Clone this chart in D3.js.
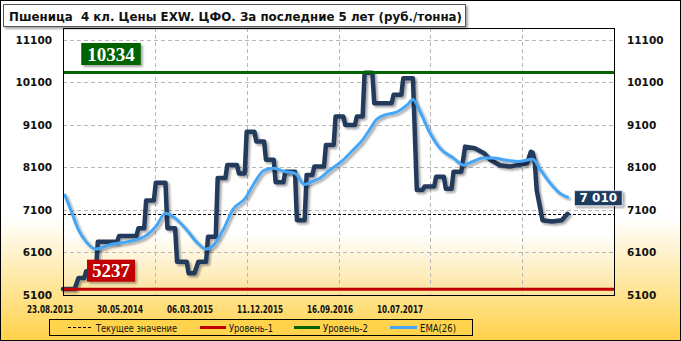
<!doctype html>
<html>
  <head>
    <meta charset="utf-8">
    <title>Пшеница 4 кл. Цены EXW. ЦФО</title>
    <script src="https://cdnjs.cloudflare.com/ajax/libs/d3/7.8.5/d3.min.js"></script>
    <style>
      body { margin: 0; background: #fff; }
      svg { display: block; }
      .yaxis text { font-family: "DejaVu Sans", sans-serif; font-weight: bold; font-size: 10.5px; fill: #111; }
    </style>
  </head>
  <body>
    <div id="chart"></div>
    <script>
      // weeks counted from 23.08.2013, price in rub/t
      const priceWeeks = [0,6,8,11,12,17,18,28,29,38, 39,42,43,47,48,53,54,58,59,64,
        65,68,70,74,75,79,80,84,85,90, 91,94,95,99,100,104,105,109,110,114,
        115,120,121,125,126,129,130,135,136,140, 141,145,146,151,152,155,156,160,161,170,
        171,175,176,181,183,186,187,192,193,197, 198,201,202,206,208,213,218,221,226,231,
        236,240,242,243,244,245,248,253,258,261];
      const priceValues = [5240,5240,5500,5500,5660,5660,6350,6350,6490,6490, 6670,6670,7320,7320,7740,7740,6670,6670,5880,5880,
        5610,5610,5880,5880,6470,6470,7850,7850,8160,8160, 7960,7960,8940,8940,8710,8710,8280,8280,7750,7750,
        8000,8000,6860,6860,7920,7920,8120,8120,8630,8630, 9300,9300,9100,9100,9300,9300,10330,10330,9610,9610,
        9810,9810,10200,10200,7570,7570,7650,7650,7880,7880, 7600,7600,8000,8000,8590,8550,8430,8280,8150,8120,
        8160,8200,8470,8440,8240,7570,6860,6830,6860,7010];
      const emaWeeks = [1,4,8,12,17,24,33,42,48,53, 57,64,69,74,78,83,88,94,99,104,
        109,115,120,125,129,133,138,145,150,155, 159,162,167,173,178,181,185,189,195,202,
        207,212,217,223,228,235,243,247,252,257, 261];
      const emaValues = [7450,7100,6630,6350,6180,6280,6350,6470,6710,7020, 6940,6630,6350,6180,6280,6650,7120,7360,7740,8030,
        8080,8000,7960,7700,7770,7850,8040,8280,8510,8750, 9020,9220,9340,9410,9570,9700,9380,8980,8550,8320,
        8160,8240,8320,8320,8280,8240,8290,8040,7730,7490, 7400];
      const yTicks = [5100,6100,7100,8100,9100,10100,11100];
      const dateLabels = ['23.08.2013','30.05.2014','06.03.2015','11.12.2015','16.09.2016','10.07.2017'];
      const level1 = 5237, level2 = 10334, current = 7010;
      const legendNames = ['Текущее значение','Уровень-1','Уровень-2','EMA(26)'];

      const width = 681, height = 341;
      const plot = {left: 63, right: 614, top: 28, bottom: 295};

      const x = d3.scaleLinear().domain([0, 285]).range([plot.left, plot.right]);
      const y = d3.scaleLinear().domain([5100, 11380]).range([plot.bottom, plot.top]);
      const xLab = d3.scalePoint().domain(dateLabels).range([50, 400]);

      const svg = d3.select('#chart').append('svg')
        .attr('width', width).attr('height', height);

      const defs = svg.append('defs');
      const g1 = defs.append('linearGradient').attr('id', 'bgOuter')
        .attr('x1', 0).attr('y1', 0).attr('x2', 0).attr('y2', 1);
      g1.append('stop').attr('offset', '0%').attr('stop-color', '#ffffff');
      g1.append('stop').attr('offset', '64%').attr('stop-color', '#ffffff');
      g1.append('stop').attr('offset', '100%').attr('stop-color', '#ffd24a');
      const g2 = defs.append('linearGradient').attr('id', 'bgPlot')
        .attr('x1', 0).attr('y1', 0).attr('x2', 0).attr('y2', 1);
      g2.append('stop').attr('offset', '0%').attr('stop-color', '#ffffff');
      g2.append('stop').attr('offset', '77%').attr('stop-color', '#ffffff');
      g2.append('stop').attr('offset', '100%').attr('stop-color', '#fde39a');
      const sh = defs.append('filter').attr('id', 'shadow')
        .attr('x', '-10%').attr('y', '-10%').attr('width', '130%').attr('height', '130%');
      sh.append('feDropShadow').attr('dx', 2).attr('dy', 2).attr('stdDeviation', 1.3)
        .attr('flood-color', '#000').attr('flood-opacity', 0.35);

      // backgrounds
      svg.append('rect').attr('x', 0.5).attr('y', 0.5).attr('width', width - 1).attr('height', height - 1)
        .style('fill', 'url(#bgOuter)').style('stroke', '#000');
      svg.append('rect').attr('x', plot.left).attr('y', plot.top)
        .attr('width', plot.right - plot.left).attr('height', plot.bottom - plot.top)
        .style('fill', 'url(#bgPlot)');

      // grid
      svg.append('g').selectAll('line').data(yTicks.slice(1)).join('line')
        .attr('x1', plot.left).attr('x2', plot.right)
        .attr('y1', d => Math.round(y(d)) + 0.5).attr('y2', d => Math.round(y(d)) + 0.5)
        .style('stroke', '#b8b8b8').style('stroke-dasharray', '4,3');
      svg.append('g').selectAll('line').data(d3.range(1, 6).map(i => i * 285 / 6)).join('line')
        .attr('x1', d => Math.round(x(d)) + 0.5).attr('x2', d => Math.round(x(d)) + 0.5)
        .attr('y1', plot.top).attr('y2', plot.bottom)
        .style('stroke', '#b8b8b8').style('stroke-dasharray', '4,3');

      // current value
      svg.append('line').attr('x1', plot.left).attr('x2', plot.right)
        .attr('y1', Math.round(y(current)) + 0.5).attr('y2', Math.round(y(current)) + 0.5)
        .style('stroke', '#000').style('stroke-dasharray', '3,2');

      const line = d3.line().x(d => x(d[0])).y(d => y(d[1]));
      svg.append('path').datum(d3.zip(priceWeeks, priceValues))
        .attr('d', line)
        .attr('filter', 'url(#shadow)')
        .style('fill', 'none').style('stroke', '#233a5c').style('stroke-width', 4.5)
        .style('stroke-linejoin', 'round').style('stroke-linecap', 'round');
      svg.append('path').datum(d3.zip(emaWeeks, emaValues))
        .attr('d', line.curve(d3.curveMonotoneX))
        .attr('filter', 'url(#shadow)')
        .style('fill', 'none').style('stroke', '#45a6f5').style('stroke-width', 3)
        .style('stroke-linejoin', 'round').style('stroke-linecap', 'round');

      // levels
      svg.append('line').attr('x1', plot.left).attr('x2', plot.right)
        .attr('y1', y(level1)).attr('y2', y(level1))
        .style('stroke', '#c00000').style('stroke-width', 3);
      svg.append('line').attr('x1', plot.left).attr('x2', plot.right)
        .attr('y1', y(level2)).attr('y2', y(level2))
        .style('stroke', '#006400').style('stroke-width', 3);

      // plot border
      svg.append('rect').attr('x', plot.left + 0.5).attr('y', plot.top + 0.5)
        .attr('width', plot.right - plot.left).attr('height', plot.bottom - plot.top)
        .style('fill', 'none').style('stroke', '#000');

      // axes
      svg.append('g').attr('class', 'yaxis').attr('transform', `translate(${plot.left},0)`)
        .call(d3.axisLeft(y).tickValues(yTicks).tickFormat(d3.format('d')).tickSize(0).tickPadding(11));
      svg.append('g').attr('class', 'yaxis').attr('transform', `translate(${plot.right},0)`)
        .call(d3.axisRight(y).tickValues(yTicks).tickFormat(d3.format('d')).tickSize(0).tickPadding(13));
      svg.selectAll('.yaxis .domain').remove();

      svg.append('g').selectAll('text').data(dateLabels).join('text')
        .attr('x', d => xLab(d)).attr('y', 312.5)
        .attr('text-anchor', 'middle')
        .attr('textLength', 46).attr('lengthAdjust', 'spacingAndGlyphs')
        .style('font-family', '"DejaVu Sans", sans-serif')
        .style('font-weight', 'bold').style('font-size', '10.2px').style('fill', '#111')
        .text(d => d);

      // value boxes
      function valueBox(cx, cy, label, fill, font, size, pad, left) {
        const g = svg.append('g');
        const r = g.append('rect');
        const t = g.append('text').attr('y', cy).attr('dy', '0.35em')
          .style('font-family', font).style('font-weight', 'bold')
          .style('font-size', size).style('fill', '#fff').text(label);
        const w = t.node().getComputedTextLength();
        const x0 = left ? cx : cx - w / 2 - pad;
        t.attr('x', x0 + pad);
        const hgt = parseFloat(size) + 3;
        r.attr('x', x0).attr('y', cy - hgt / 2).attr('width', w + 2 * pad).attr('height', hgt)
          .attr('filter', 'url(#shadow)').style('fill', fill);
        return r;
      }
      valueBox(111, y(level2) - 18.5, String(level2), '#006400', '"Liberation Serif", "Times New Roman", serif', '19px', 6);
      valueBox(111, y(level1) - 18.5, String(level1), '#c00000', '"Liberation Serif", "Times New Roman", serif', '19px', 5);
      const cb = valueBox(x(priceWeeks[priceWeeks.length - 1]) + 7, y(emaValues[emaValues.length - 1]) + 1,
        d3.format(',')(current).replace(',', ' '), '#1f3a5f', '"DejaVu Sans", sans-serif', '12px', 5, true);
      cb.style('stroke', '#dfe6ee').style('stroke-width', 0.8);

      // title
      svg.append('rect').attr('x', 3.5).attr('y', 4.5).attr('width', 462).attr('height', 22)
        .attr('filter', 'url(#shadow)').style('fill', '#fff').style('stroke', '#555');
      svg.append('text').attr('x', 9).attr('y', 20.5)
        .attr('textLength', 453).attr('lengthAdjust', 'spacingAndGlyphs')
        .style('white-space', 'pre')
        .style('font-family', '"DejaVu Sans", sans-serif').style('font-weight', 'bold')
        .style('font-size', '12.3px').style('fill', '#111')
        .text('Пшеница  4 кл. Цены EXW. ЦФО. За последние 5 лет (руб./тонна)');

      // legend
      const lg = svg.append('g');
      lg.append('rect').attr('x', 49.5).attr('y', 319.5).attr('width', 423).attr('height', 16)
        .style('fill', '#ffd44c').style('stroke', '#000');
      const sw = [[68, 93], [200, 226], [294, 320], [390, 417]];
      const textW = [81, 44, 45, 36];
      const styles = [
        {c: '#000', w: 1, dash: '3,2'},
        {c: '#c00000', w: 3, dash: null},
        {c: '#006400', w: 3, dash: null},
        {c: '#45a6f5', w: 3, dash: null}
      ];
      legendNames.forEach((name, i) => {
        lg.append('line').attr('x1', sw[i][0]).attr('x2', sw[i][1])
          .attr('y1', 327.5).attr('y2', 327.5)
          .style('stroke', styles[i].c).style('stroke-width', styles[i].w)
          .style('stroke-dasharray', styles[i].dash);
        lg.append('text').attr('x', sw[i][1] + 3).attr('y', 331.5)
          .attr('textLength', textW[i]).attr('lengthAdjust', 'spacingAndGlyphs')
          .style('font-family', '"DejaVu Sans", sans-serif').style('font-size', '10.2px')
          .style('fill', '#111').text(name);
      });
    </script>
  </body>
</html>
